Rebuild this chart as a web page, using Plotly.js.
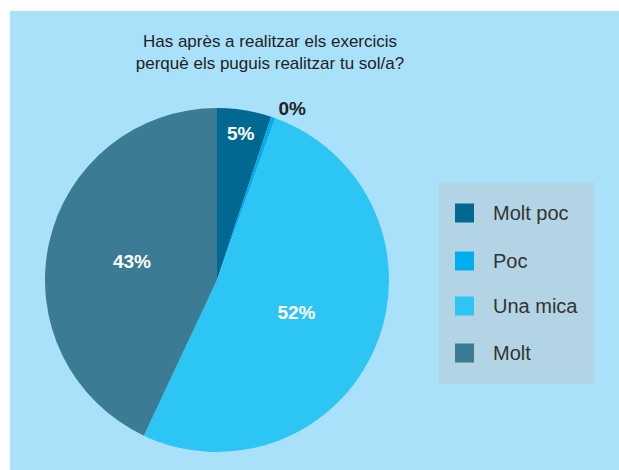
<!DOCTYPE html>
<html><head><meta charset="utf-8">
<script src="https://cdn.plot.ly/plotly-3.0.1.min.js"></script>
<style>
html,body{margin:0;padding:0;background:#ffffff;}
#chart{position:absolute;left:10px;top:11px;width:609px;height:459px;}
</style></head>
<body><div id="chart"></div>
<script>
const categories = ["Molt poc", "Poc", "Una mica", "Molt"];
const values = [5.1, 0.4, 51.5, 43.0];
const colors = ["#006891", "#00aeef", "#2dc6f4", "#3b7b94"];
const textPositions = ["inside", "outside", "inside", "inside"];
const textColors = ["#ffffff", "#222222", "#ffffff", "#ffffff"];

const W = 609, H = 459;
const shapes = [{type:"rect", xref:"paper", yref:"paper",
  x0:(439-10)/W, x1:(594-10)/W, y0:1-(384-11)/H, y1:1-(182-11)/H,
  fillcolor:"#b3d4e4", line:{width:0}, layer:"below"}];
const annotations = [];
const rowY = [213, 261, 306, 353];
categories.forEach((c, i) => {
  const yc = 1 - (rowY[i]-11)/H;
  shapes.push({type:"rect", xref:"paper", yref:"paper",
    x0:(455-10)/W, x1:(474-10)/W, y0:yc-9.5/H, y1:yc+9.5/H,
    fillcolor:colors[i], line:{width:0}});
  annotations.push({xref:"paper", yref:"paper", x:(491-10)/W, y:yc,
    xanchor:"left", yanchor:"middle", showarrow:false, text:c,
    font:{family:"Liberation Sans, Arial, sans-serif", size:20, color:"#333333"}});
});

const data = [{
  type:"pie", labels:categories, values:values, sort:false, direction:"clockwise",
  rotation:0, marker:{colors:colors, line:{width:0}},
  texttemplate:"<b>%{percent:.0%}</b>", textposition:textPositions,
  insidetextorientation:"horizontal",
  textfont:{family:"Liberation Sans, Arial, sans-serif", size:19, color:textColors},
  showlegend:false, hoverinfo:"label+percent",
  domain:{x:[(207-172)/W,(207+172)/W], y:[(190-172)/H,(190+172)/H]}
}];

const layout = {
  width:W, height:H, paper_bgcolor:"#aae1fa", plot_bgcolor:"#aae1fa",
  margin:{l:0,r:0,t:0,b:0}, showlegend:false,
  title:{text:"Has après a realitzar els exercicis<br>perquè els puguis realitzar tu sol/a?",
    x:(270-10)/W, xanchor:"center", y:1-(47-11)/H, yanchor:"middle",
    font:{family:"Liberation Sans, Arial, sans-serif", size:17, color:"#222222"}},
  shapes:shapes, annotations:annotations
};
Plotly.newPlot("chart", data, layout, {displayModeBar:false, staticPlot:true});
</script></body></html>
